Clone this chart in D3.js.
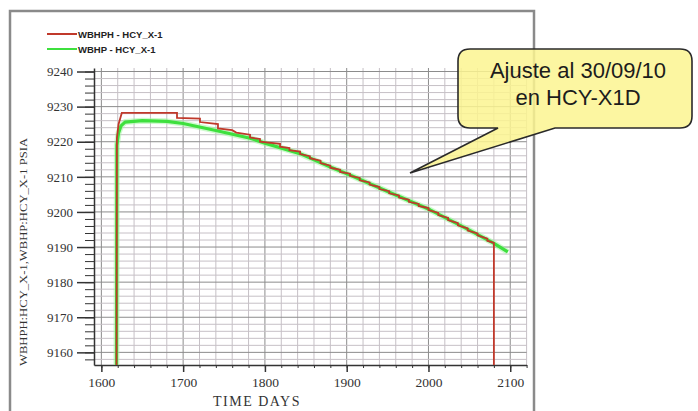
<!DOCTYPE html>
<html>
<head>
<meta charset="utf-8">
<script src="https://cdn.jsdelivr.net/npm/d3@7"></script>
<style>
  html, body { margin: 0; padding: 0; background: #fff; }
  svg { display: block; }
</style>
</head>
<body>
<div id="chart"></div>
<script>
// Series: [day, psia]
const redSeries = [
  [1618.5, 9156.4], [1619, 9221], [1621, 9225], [1625, 9228.2], [1692.5, 9228.2],
  [1692.5, 9226.8], [1720.6, 9226.6], [1720.6, 9225.6], [1742.6, 9225.0], [1742.6, 9223.8],
  [1760, 9223.3], [1765, 9222.6], [1781.8, 9222.0], [1781.8, 9221.2], [1794, 9220.8],
  [1794, 9220.0], [1818.5, 9219.4], [1818.5, 9218.6], [1830, 9218.2], [1830, 9217.6],
  [1843, 9217.2], [1843, 9216.5], [1855, 9215.9], [1855, 9215.3], [1868, 9214.6],
  [1868, 9213.9], [1880, 9213.2], [1880, 9212.6], [1892, 9212.0], [1892, 9211.4],
  [1904, 9210.9], [1904, 9210.3], [1916, 9209.7], [1916, 9209.0], [1928, 9208.4],
  [1928, 9207.8], [1940, 9207.1], [1940, 9206.5], [1952, 9205.9], [1952, 9205.3],
  [1964, 9204.7], [1964, 9204.1], [1976, 9203.5], [1976, 9202.9], [1988, 9202.3],
  [1988, 9201.7], [2000, 9201.1], [2000, 9200.5], [2012, 9199.7], [2012, 9199.1],
  [2024, 9198.3], [2024, 9197.7], [2036, 9196.8], [2036, 9196.2], [2048, 9195.3],
  [2048, 9194.7], [2060, 9193.9], [2060, 9193.3], [2072, 9192.4], [2072, 9191.8],
  [2080, 9191.2], [2080, 9156.4]
];

const greenSeries = [
  [1618.5, 9156.4], [1619, 9219], [1621, 9222.5], [1624, 9224.5], [1629, 9225.6],
  [1650, 9226], [1680, 9225.8], [1700, 9225.2], [1740, 9223.2], [1782, 9221.0],
  [1800, 9219.6], [1843, 9216.6], [1880, 9212.8], [1904, 9210.5], [1950, 9205.8],
  [2002, 9200.6], [2050, 9194.8], [2079, 9191.2], [2097, 9188.6]
];

const xTicks = [1600, 1700, 1800, 1900, 2000, 2100];
const yTicks = [9160, 9170, 9180, 9190, 9200, 9210, 9220, 9230, 9240];
const legendLabels = ["WBHPH - HCY_X-1", "WBHP - HCY_X-1"];
const calloutLines = ["Ajuste al 30/09/10", "en HCY-X1D"];

const W = 698, H = 411;
const red = "#c0392b", green = "#3ee03e";

const svg = d3.select("#chart").append("svg")
  .attr("width", W)
  .attr("height", H);

// Scales
const x = d3.scaleLinear().domain([1591, 2120]).range([94, 526.6]);
const y = d3.scaleLinear().domain([9156.4, 9241]).range([365, 68]);

// Outer frame
svg.append("rect")
  .attr("x", 10).attr("y", 11)
  .attr("width", 524).attr("height", 420)
  .attr("fill", "none")
  .attr("stroke", "#8a8a8a")
  .attr("stroke-width", 2.5);

// Grid (minor then major)
const xMinor = d3.range(1600, 2121, 20);
const yMinor = d3.range(9158, 9241, 2);

svg.append("g").selectAll("line")
  .data(xMinor)
  .enter().append("line")
  .attr("x1", d => x(d)).attr("x2", d => x(d))
  .attr("y1", y.range()[1]).attr("y2", y.range()[0])
  .attr("stroke", d => d % 100 === 0 ? "#8c8c8c" : "#c6c0c6")
  .attr("stroke-width", 1);

svg.append("g").selectAll("line")
  .data(yMinor)
  .enter().append("line")
  .attr("x1", x.range()[0]).attr("x2", x.range()[1])
  .attr("y1", d => y(d)).attr("y2", d => y(d))
  .attr("stroke", d => d % 10 === 0 ? "#8c8c8c" : "#c6c0c6")
  .attr("stroke-width", 1);

// Axes
const xAxisMinor = d3.axisBottom(x).tickValues(xMinor).tickSize(3).tickFormat("");
svg.append("g")
  .attr("transform", "translate(0,365)")
  .call(xAxisMinor)
  .call(g => g.select(".domain").remove())
  .selectAll("line").attr("stroke", "#333");

svg.append("g")
  .attr("transform", "translate(0,365)")
  .call(d3.axisBottom(x).tickValues(xTicks).tickSize(7).tickSizeOuter(0).tickFormat(d3.format("d")))
  .call(g => g.select(".domain").attr("stroke", "#333").attr("stroke-width", 1.5))
  .call(g => g.selectAll(".tick line").attr("stroke", "#333").attr("stroke-width", 1.5))
  .selectAll("text")
  .attr("y", 12)
  .style("font-family", "'Liberation Serif', 'DejaVu Serif', serif")
  .style("font-size", "13.5px")
  .style("fill", "#333");

svg.append("g")
  .attr("transform", "translate(94,0)")
  .call(d3.axisLeft(y).tickValues(yMinor).tickSize(9).tickFormat(""))
  .call(g => g.select(".domain").remove())
  .selectAll("line").attr("stroke", "#333");

svg.append("g")
  .attr("transform", "translate(94,0)")
  .call(d3.axisLeft(y).tickValues(yTicks).tickSize(17).tickSizeOuter(0).tickFormat(d3.format("d")))
  .call(g => g.select(".domain").attr("stroke", "#333").attr("stroke-width", 1.5))
  .call(g => g.selectAll(".tick line").attr("stroke", "#333").attr("stroke-width", 1.5))
  .selectAll("text")
  .attr("x", -21)
  .style("font-family", "'Liberation Serif', 'DejaVu Serif', serif")
  .style("font-size", "13px")
  .style("fill", "#333");

// Axis labels
svg.append("text")
  .attr("x", 257).attr("y", 406)
  .attr("text-anchor", "middle")
  .style("font-family", "'Liberation Serif', serif")
  .style("font-size", "14px")
  .style("letter-spacing", "1.5px")
  .style("fill", "#333")
  .text("TIME  DAYS");

svg.append("text")
  .attr("transform", "translate(27,252) rotate(-90)")
  .attr("text-anchor", "middle")
  .attr("textLength", 228)
  .attr("lengthAdjust", "spacingAndGlyphs")
  .style("font-family", "'Liberation Serif', serif")
  .style("font-size", "11px")
  .style("fill", "#333")
  .text("WBHPH:HCY_X-1,WBHP:HCY_X-1   PSIA");

// Series lines
const line = d3.line().x(d => x(d[0])).y(d => y(d[1]));

// soft halo under the simulated curve, as in the scanned original
svg.append("path")
  .datum(greenSeries)
  .attr("d", line)
  .attr("fill", "none")
  .attr("stroke", "#9ef59e")
  .attr("stroke-width", 6)
  .attr("stroke-opacity", 0.5)
  .attr("stroke-linejoin", "round");

svg.append("path")
  .datum(greenSeries)
  .attr("d", line)
  .attr("fill", "none")
  .attr("stroke", green)
  .attr("stroke-width", 3.2)
  .attr("stroke-linejoin", "round");

svg.append("path")
  .datum(redSeries)
  .attr("d", line)
  .attr("fill", "none")
  .attr("stroke", red)
  .attr("stroke-width", 1.8);

// Legend
const legendColors = [red, green];
const legend = svg.append("g").selectAll("g")
  .data(legendLabels)
  .enter().append("g")
  .attr("transform", (d, i) => `translate(0,${34 + i * 15})`);

legend.append("line")
  .attr("x1", 47).attr("x2", 77)
  .attr("stroke", (d, i) => legendColors[i])
  .attr("stroke-width", 2);

legend.append("text")
  .attr("x", 78).attr("y", 3.5)
  .style("font-family", "'Liberation Sans', Arial, sans-serif")
  .style("font-size", "9.5px")
  .style("font-weight", "bold")
  .style("fill", "#222")
  .text(d => d);

// Callout box with pointer
const bx0 = 458, by0 = 49, bx1 = 692, by1 = 128, r = 12;
const p = d3.path();
p.moveTo(bx0 + r, by0);
p.lineTo(bx1 - r, by0);
p.quadraticCurveTo(bx1, by0, bx1, by0 + r);
p.lineTo(bx1, by1 - r);
p.quadraticCurveTo(bx1, by1, bx1 - r, by1);
p.lineTo(555, by1);
p.lineTo(410, 173);
p.lineTo(498, by1);
p.lineTo(bx0 + r, by1);
p.quadraticCurveTo(bx0, by1, bx0, by1 - r);
p.lineTo(bx0, by0 + r);
p.quadraticCurveTo(bx0, by0, bx0 + r, by0);
p.closePath();

svg.append("path")
  .attr("d", p.toString())
  .attr("fill", "#fbf590")
  .attr("fill-opacity", 0.85)
  .attr("stroke", "#2a2a2a")
  .attr("stroke-width", 1.6);

svg.append("g").selectAll("text")
  .data(calloutLines)
  .enter().append("text")
  .attr("x", 578)
  .attr("y", (d, i) => 78 + i * 27)
  .attr("text-anchor", "middle")
  .style("font-family", "'Liberation Sans', Arial, sans-serif")
  .style("font-size", "22px")
  .style("fill", "#1c1c1c")
  .text(d => d);
</script>
</body>
</html>
